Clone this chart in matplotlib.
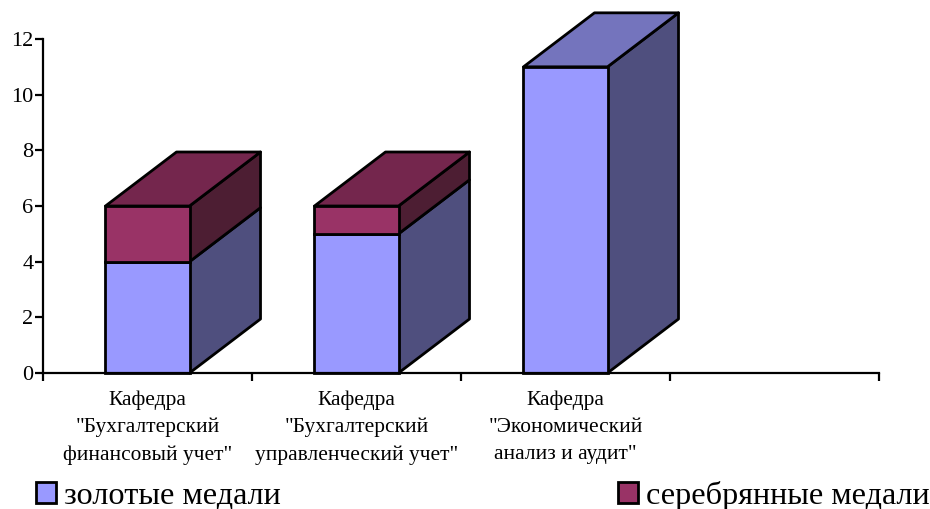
import matplotlib
matplotlib.use("Agg")
import matplotlib.pyplot as plt
from matplotlib.patches import Polygon, Rectangle

categories = ['Кафедра\n"Бухгалтерский\nфинансовый учет"',
              'Кафедра\n"Бухгалтерский\nуправленческий учет"',
              'Кафедра\n"Экономический\nанализ и аудит"']
gold = [4, 5, 11]
silver = [2, 1, 0]
gold_name = "золотые медали"
silver_name = "серебрянные медали"
yticks = [0, 2, 4, 6, 8, 10, 12]

W, H = 930, 509
plt.rcParams['font.family'] = ['Liberation Serif', 'DejaVu Serif']
fig = plt.figure(figsize=(W / 100, H / 100), dpi=100)
ax = fig.add_axes([43 / W, 1 - 373 / H, (879 - 43) / W, (373 - 39) / H])
ax.set_xlim(-0.5, 3.5)
ax.set_ylim(0, 12)

GOLD = dict(front="#9999FF", top="#7474BD", side="#4F4F7E")
SILVER = dict(front="#993366", top="#74264D", side="#4D1E33")
bw = 0.402
dx = 71 / 209
dy = 54 / (334 / 12)
lw = 2.0

def box(x, y0, y1, c, z, show_top=True):
    l, r = x - bw / 2, x + bw / 2
    style = dict(edgecolor="black", linewidth=lw, joinstyle="round", clip_on=False)
    ax.add_patch(Polygon([(r, y0), (r + dx, y0 + dy), (r + dx, y1 + dy), (r, y1)],
                         facecolor=c["side"], zorder=z, **style))
    if show_top:
        ax.add_patch(Polygon([(l, y1), (l + dx, y1 + dy), (r + dx, y1 + dy), (r, y1)],
                             facecolor=c["top"], zorder=z, **style))
    ax.bar([x], [y1 - y0], bottom=[y0], width=bw, color=c["front"], edgecolor="black",
           linewidth=lw, zorder=z + 0.5, clip_on=False)

for i in range(len(categories)):
    has_silver = silver[i] > 0
    box(i, 0, gold[i], GOLD, 3 + i, show_top=not has_silver)
    if has_silver:
        box(i, gold[i], gold[i] + silver[i], SILVER, 3.2 + i)

for s in ("top", "right"):
    ax.spines[s].set_visible(False)
for s in ("left", "bottom"):
    ax.spines[s].set_linewidth(1.6)
    ax.spines[s].set_zorder(10)

ax.set_yticks(yticks)
ax.tick_params(axis="y", length=5.5, width=1.6, labelsize=16, pad=1.5)
ax.set_xticks([-0.5, 0.5, 1.5, 2.5, 3.5])
ax.set_xticklabels([])
ax.tick_params(axis="x", which="major", length=6, width=1.6)
ax.set_xticks([0, 1, 2], minor=True)
ax.set_xticklabels(categories, minor=True, fontsize=15.4, linespacing=1.56)
ax.tick_params(axis="x", which="minor", length=0, pad=12.5)

handles = [Rectangle((0, 0), 1, 1, facecolor=GOLD["front"], edgecolor="black", linewidth=2),
           Rectangle((0, 0), 1, 1, facecolor=SILVER["front"], edgecolor="black", linewidth=2)]
fig.legend(handles, [gold_name, silver_name], ncol=2, frameon=False, fontsize=23.2,
           loc="lower left", bbox_to_anchor=(33 / W, -5 / H), borderaxespad=0, borderpad=0.1,
           handlelength=0.62, handleheight=0.62, handletextpad=0.25, columnspacing=10.47)

fig.savefig("out.png", dpi=100)
